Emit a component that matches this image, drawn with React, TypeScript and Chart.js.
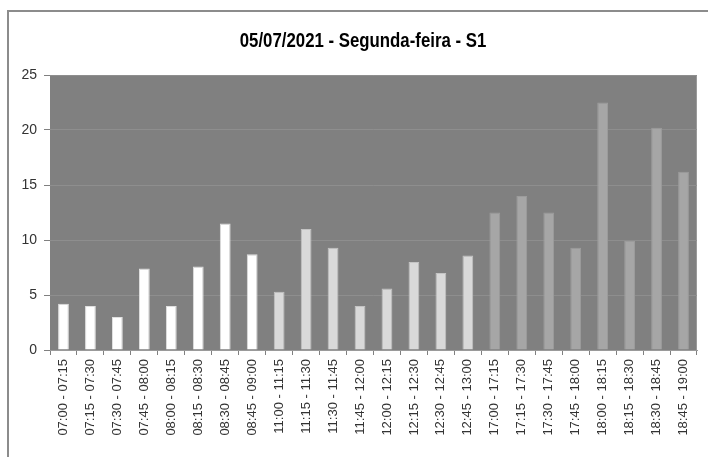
import React, { useEffect, useRef } from "react";
import { Chart, registerables } from "chart.js";

Chart.register(...registerables);

const TITLE = "05/07/2021 - Segunda-feira - S1";

const categories = [
  "07:00 - 07:15", "07:15 - 07:30", "07:30 - 07:45", "07:45 - 08:00",
  "08:00 - 08:15", "08:15 - 08:30", "08:30 - 08:45", "08:45 - 09:00",
  "11:00 - 11:15", "11:15 - 11:30", "11:30 - 11:45", "11:45 - 12:00",
  "12:00 - 12:15", "12:15 - 12:30", "12:30 - 12:45", "12:45 - 13:00",
  "17:00 - 17:15", "17:15 - 17:30", "17:30 - 17:45", "17:45 - 18:00",
  "18:00 - 18:15", "18:15 - 18:30", "18:30 - 18:45", "18:45 - 19:00",
];

const values = [
  4.2, 4, 3, 7.4, 4, 7.6, 11.5, 8.7,
  5.3, 11, 9.3, 4, 5.6, 8, 7, 8.6,
  12.5, 14, 12.5, 9.3, 22.5, 9.9, 20.2, 16.2,
];

// period of each bar: 0 = morning, 1 = midday, 2 = evening
const periods = [
  0, 0, 0, 0, 0, 0, 0, 0,
  1, 1, 1, 1, 1, 1, 1, 1,
  2, 2, 2, 2, 2, 2, 2, 2,
];

const yTicks = [0, 5, 10, 15, 20, 25];

const FONT = "'Liberation Sans', Arial, sans-serif";
const periodFill = ["#ffffff", "#d9d9d9", "#a6a6a6"];
const periodEdge = ["#e0e0e0", "#c4c4c4", "#9c9c9c"];

const bgPlugin = {
  id: "plotBg",
  beforeDraw(chart: any) {
    const { ctx, chartArea } = chart;
    ctx.save();
    ctx.fillStyle = "#808080";
    ctx.fillRect(chartArea.left, chartArea.top, chartArea.right - chartArea.left, chartArea.bottom - chartArea.top);
    ctx.strokeStyle = "#9a9a9a";
    ctx.lineWidth = 1;
    ctx.beginPath();
    ctx.moveTo(chartArea.left, chartArea.top + 0.5);
    ctx.lineTo(chartArea.right - 0.5, chartArea.top + 0.5);
    ctx.lineTo(chartArea.right - 0.5, chartArea.bottom);
    ctx.stroke();
    ctx.restore();
  },
  afterDraw(chart: any) {
    const { ctx } = chart;
    ctx.save();
    ctx.fillStyle = "#000000";
    ctx.font = `bold 21px ${FONT}`;
    ctx.textAlign = "center";
    ctx.textBaseline = "alphabetic";
    ctx.translate(354, 35);
    ctx.scale(0.8, 1);
    ctx.fillText(TITLE, 0, 0);
    ctx.restore();
  },
};

export default function App() {
  const ref = useRef<HTMLCanvasElement | null>(null);

  useEffect(() => {
    if (!ref.current) return;
    const chart = new Chart(ref.current, {
      type: "bar",
      data: {
        labels: categories,
        datasets: [
          {
            data: values,
            backgroundColor: periods.map((p) => periodFill[p]),
            borderColor: periods.map((p) => periodEdge[p]),
            borderWidth: 1,
            categoryPercentage: 1,
            barPercentage: 0.4,
          },
        ],
      },
      options: {
        animation: false,
        responsive: false,
        maintainAspectRatio: false,
        layout: { padding: { top: 63, right: 11, left: 0, bottom: 0 } },
        plugins: {
          legend: { display: false },
          title: { display: false },
          tooltip: { enabled: false },
        },
        scales: {
          x: {
            type: "category",
            offset: true,
            grid: {
              offset: true,
              drawOnChartArea: false,
              drawTicks: true,
              tickLength: 5,
              tickColor: "#808080",
            },
            border: { display: true, color: "#9a9a9a" },
            ticks: {
              autoSkip: false,
              maxRotation: 90,
              minRotation: 90,
              padding: 4,
              color: "#333333",
              font: { family: FONT, size: 13 },
            },
            afterFit(scale: any) {
              scale.height = 107;
            },
          },
          y: {
            min: 0,
            max: 25,
            afterBuildTicks(scale: any) {
              scale.ticks = yTicks.map((v) => ({ value: v }));
            },
            grid: {
              color: "#8e8e8e",
              tickColor: "#808080",
              tickLength: 6,
              lineWidth: 1,
            },
            border: { display: false },
            ticks: {
              padding: 7,
              color: "#333333",
              font: { family: FONT, size: 14 },
            },
            afterFit(scale: any) {
              scale.width = 41;
            },
          },
        },
      },
      plugins: [bgPlugin],
    });
    return () => chart.destroy();
  }, []);

  return (
    <div
      style={{
        position: "absolute",
        left: 7,
        top: 10,
        width: 701,
        height: 447,
        borderTop: "2px solid #8c8c8c",
        borderLeft: "2px solid #8c8c8c",
        background: "#ffffff",
      }}
    >
      <canvas ref={ref} width={699} height={445} style={{ display: "block" }} />
    </div>
  );
}
